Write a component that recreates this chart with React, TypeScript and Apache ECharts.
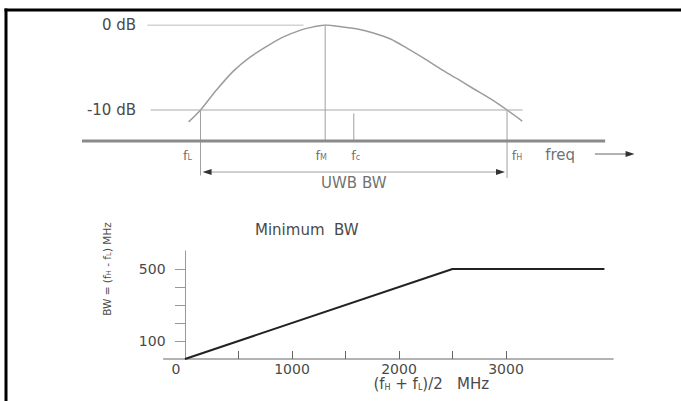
import { useEffect, useRef } from 'react';
import * as echarts from 'echarts';

// ---------- top panel: UWB spectrum sketch (GHz / dB) ----------
const edgeNames = ['L', 'M', 'c', 'H'];
const edgeFreqGHz = [3.1, 6.15, 6.85, 10.6];
const edgeTopDb = [-10, 0, -10.4, -10];
const edgeBottomDb = [-17.7, -13.65, -13.65, -18];
const curveFreqGHz = [
  2.81, 3.1, 3.49, 3.91, 4.32, 4.74, 5.13, 5.55, 5.84, 6.15, 6.52,
  6.94, 7.33, 7.75, 8.16, 8.56, 8.97, 9.39, 9.78, 10.2, 10.6, 10.97,
];
const curveDb = [
  -11.4, -10, -7.65, -5.4, -3.75, -2.45, -1.4, -0.6, -0.25, 0, -0.18,
  -0.47, -0.94, -1.65, -2.75, -3.9, -5.15, -6.35, -7.5, -8.7, -10, -11.3,
];
const refLevelDb = [0, -10];
const refStartGHz = [1.8, 1.88];
const refEndGHz = [5.62, 10.98];
const baselineDb = -13.65;
const baselineGHz = [0.2, 13.0];
const bwArrowDb = -17.3;
const freqArrowGHz = [12.75, 13.61];
const freqArrowDb = -15.18;
const edgeLabelDb = -15.3;
const freqLabelGHz = 11.9;
const bwLabelDb = -18.6;

// ---------- bottom panel: minimum bandwidth (MHz) ----------
const centerFreqMHz = [0, 2500, 3920];
const minBwMHz = [0, 500, 500];
const bwTicks = [100, 200, 300, 400, 500];
const bwLabels = [100, 500];
const freqTicks = [500, 1000, 1500, 2000, 2500, 3000];
const freqLabels = [0, 1000, 2000, 3000];

const FONT = 'DejaVu Sans';
const TEXT = '#4a4a4a';
const GREY = '#9a9a9a';

const rich: any = {
  t: { fontSize: 15, fontFamily: FONT, color: TEXT },
  n: { fontSize: 14, fontFamily: FONT, color: TEXT },
  f: { fontSize: 13, fontFamily: FONT, color: TEXT },
  s: { fontSize: 8, fontFamily: FONT, color: TEXT, verticalAlign: 'bottom', padding: [4, 0, 0, 0] },
  z: { fontSize: 14, fontFamily: FONT, color: TEXT, padding: [0, 18, 0, 0] },
  v: { fontSize: 10.5, fontFamily: FONT, color: TEXT },
  vs: { fontSize: 7, fontFamily: FONT, color: TEXT, verticalAlign: 'bottom', padding: [3, 0, 0, 0] },
};

function buildOption(): any {
  const topLine = (data: any[], color = GREY, width = 1) => ({
    type: 'line',
    xAxisIndex: 0,
    yAxisIndex: 0,
    data,
    showSymbol: false,
    silent: true,
    lineStyle: { color, width },
  });

  const series: any[] = [];
  // response curve
  series.push({
    ...topLine(curveFreqGHz.map((f, i) => [f, curveDb[i]]), '#9c9c9c', 1.5),
    smooth: 0.3,
  });
  // reference levels
  refLevelDb.forEach((lvl, i) => {
    series.push(topLine([[refStartGHz[i], lvl], [refEndGHz[i], lvl]], '#a8a8a8', 1));
  });
  // edge verticals
  edgeFreqGHz.forEach((f, i) => {
    series.push(topLine([[f, edgeTopDb[i]], [f, edgeBottomDb[i]]], '#a0a0a0', 1));
  });
  // baseline (frequency axis)
  series.push(topLine([[baselineGHz[0], baselineDb], [baselineGHz[1], baselineDb]], '#8a8a8a', 3));
  // UWB BW double arrow
  const inset = 0.16;
  series.push({
    ...topLine([], '#a0a0a0', 1),
    showSymbol: true,
    symbol: 'triangle',
    symbolSize: [6, 9],
    itemStyle: { color: '#333' },
    data: [
      { value: [edgeFreqGHz[0] + inset, bwArrowDb], symbolRotate: 90 },
      { value: [edgeFreqGHz[3] - inset, bwArrowDb], symbolRotate: -90 },
    ],
  });
  // freq arrow
  series.push({
    ...topLine([], '#666', 1),
    showSymbol: true,
    symbolSize: [6, 9],
    itemStyle: { color: '#333' },
    data: [
      { value: [freqArrowGHz[0], freqArrowDb], symbol: 'none' },
      { value: [freqArrowGHz[1], freqArrowDb], symbol: 'triangle', symbolRotate: -90 },
    ],
  });
  // annotations
  const edgeDx = [-13, -4, 2, 10];
  const ann: any[] = edgeFreqGHz.map((f, i) => ({
    value: [f, edgeLabelDb],
    label: { formatter: `{f|f}{s|${edgeNames[i]}}`, offset: [edgeDx[i], 0] },
  }));
  ann.push({ value: [freqLabelGHz, edgeLabelDb], label: { formatter: '{t|freq}' } });
  ann.push({
    value: [(edgeFreqGHz[0] + edgeFreqGHz[3]) / 2, bwLabelDb],
    label: { formatter: '{t|UWB BW}' },
  });
  series.push({
    type: 'scatter',
    xAxisIndex: 0,
    yAxisIndex: 0,
    symbolSize: 1,
    silent: true,
    itemStyle: { color: 'transparent' },
    label: { show: true, position: 'inside', rich },
    data: ann,
  });

  // bottom line
  series.push({
    type: 'line',
    xAxisIndex: 1,
    yAxisIndex: 1,
    data: centerFreqMHz.map((f, i) => [f, minBwMHz[i]]),
    showSymbol: false,
    silent: true,
    lineStyle: { color: '#222', width: 2 },
  });

  return {
    animation: false,
    textStyle: { fontFamily: FONT, color: TEXT },
    title: {
      text: 'Minimum  BW',
      left: 255,
      top: 222,
      padding: 0,
      textStyle: { fontSize: 15, fontWeight: 'normal', color: TEXT, fontFamily: FONT },
    },
    grid: [
      { left: 82, top: 25, width: 564, height: 161.5 },
      { left: 163.6, top: 251, width: 449.4, height: 108 },
    ],
    xAxis: [
      { gridIndex: 0, type: 'value', min: 0.2, max: 14, show: false },
      {
        gridIndex: 1,
        type: 'value',
        min: -200,
        max: 4000,
        axisLine: { lineStyle: { color: '#999', width: 1.5 } },
        axisTick: { inside: true, length: 8, customValues: freqTicks, lineStyle: { color: '#666' } },
        axisLabel: {
          customValues: freqLabels,
          margin: 3,
          formatter: (v: number) => (v === 0 ? '{z|0}' : `{n|${v}}`),
          rich,
        },
        splitLine: { show: false },
        name: '{t|(f}{s|H}{t| + f}{s|L}{t|)/2   MHz}',
        nameLocation: 'middle',
        nameGap: 17,
        nameTextStyle: { rich, padding: [0, 0, 0, 86] },
      },
    ],
    yAxis: [
      {
        gridIndex: 0,
        type: 'value',
        min: -19,
        max: 0,
        axisLine: { show: false },
        axisTick: { show: false },
        splitLine: { show: false },
        axisLabel: {
          customValues: refLevelDb,
          inside: true,
          align: 'right',
          margin: 54,
          formatter: (v: number) => `{t|${v} dB}`,
          rich,
        },
      },
      {
        gridIndex: 1,
        type: 'value',
        min: 0,
        max: 600,
        axisLine: { onZero: true, onZeroAxisIndex: 1, lineStyle: { color: '#999', width: 1 } },
        axisTick: { length: 10, customValues: bwTicks, lineStyle: { color: '#999' } },
        axisLabel: { customValues: bwLabels, margin: -2, formatter: (v: number) => `{n|${v}}`, rich },
        splitLine: { show: false },
        name: '{v|BW = (f}{vs|H}{v| - f}{vs|L}{v|) MHz}',
        nameLocation: 'middle',
        nameGap: 51,
        nameRotate: 90,
        nameTextStyle: { rich, padding: [0, 0, 0, 72] },
      },
      {
        gridIndex: 1,
        type: 'value',
        min: 0,
        max: 600,
        axisLine: { show: false, onZero: true, onZeroAxisIndex: 1 },
        axisTick: { inside: true, length: 10, customValues: bwTicks, lineStyle: { color: '#999' } },
        axisLabel: { show: false },
        splitLine: { show: false },
      },
    ],
    graphic: [
      {
        type: 'line',
        shape: { x1: 4.5, y1: 10, x2: 681, y2: 10 },
        style: { stroke: '#000', lineWidth: 3 },
        silent: true,
      },
      {
        type: 'line',
        shape: { x1: 6, y1: 8.5, x2: 6, y2: 401 },
        style: { stroke: '#000', lineWidth: 3 },
        silent: true,
      },
    ],
    series,
  };
}

export default function App() {
  const ref = useRef<HTMLDivElement>(null);
  useEffect(() => {
    document.body.style.margin = '0';
    document.body.style.overflow = 'hidden';
    if (!ref.current) return;
    const chart = echarts.init(ref.current, undefined, { renderer: 'svg' });
    chart.setOption(buildOption());
    return () => chart.dispose();
  }, []);
  return (
    <div
      ref={ref}
      style={{
        position: 'absolute',
        left: 0,
        top: 0,
        width: 681,
        height: 401,
        overflow: 'hidden',
        background: '#fff',
      }}
    />
  );
}
